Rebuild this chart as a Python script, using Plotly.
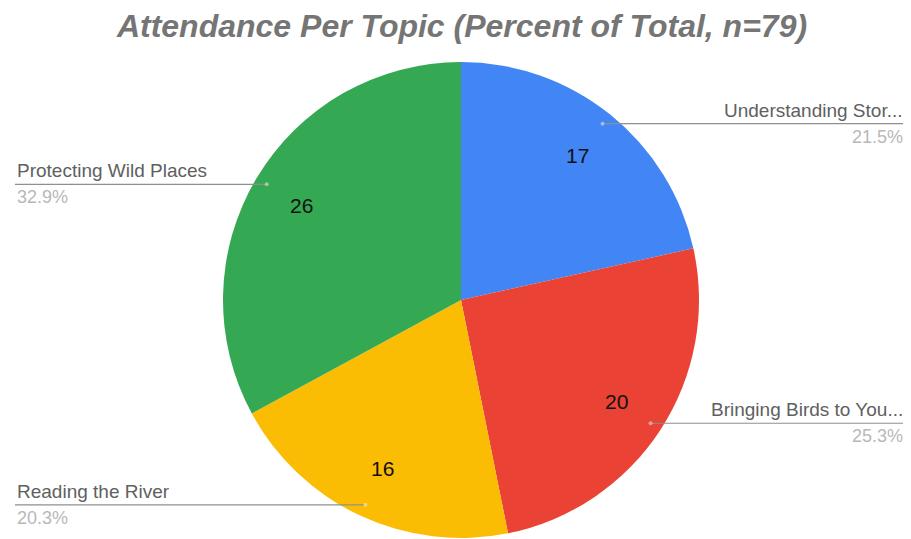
import math
import plotly.graph_objects as go

# ---- data ----
labels = ["Understanding Stor...", "Bringing Birds to You...", "Reading the River", "Protecting Wild Places"]
values = [17, 20, 16, 26]
colors = ["#4285F4", "#EA4335", "#FBBC04", "#34A853"]
title_text = "Attendance Per Topic (Percent of Total, n=79)"

# ---- geometry (screen pixels; page has an 8px body margin) ----
OFF = 8
W, H = 911 - OFF, 539 - OFF
cx, cy, R = 461, 300, 238
LEFT_X, RIGHT_X = 15, 905
FONT = "Liberation Sans, Arial"

def px(x):
    return (x - OFF) / W

def py(y):
    return 1 - (y - OFF) / H

fig = go.Figure(go.Pie(
    labels=labels, values=values, sort=False, direction="clockwise", rotation=0,
    marker=dict(colors=colors, line=dict(width=0)),
    textinfo="none", hoverinfo="label+value+percent", showlegend=False,
    domain=dict(x=[px(cx - R), px(cx + R)], y=[py(cy + R), py(cy - R)]),
))

total = sum(values)
cum = 0
shapes = []
annotations = []
for lab, v in zip(labels, values):
    mid = (cum + v / 2) / total * 2 * math.pi
    cum += v
    s, c = math.sin(mid), math.cos(mid)
    # value inside slice
    nx, ny = cx + 0.78 * R * s, cy - 0.78 * R * c
    annotations.append(dict(x=px(nx), y=py(ny), xref="paper", yref="paper", text=str(v),
                            showarrow=False, font=dict(family=FONT, size=21, color="#111111"),
                            xanchor="center", yanchor="middle"))
    # leader line
    dx, dy = cx + 0.95 * R * s, cy - 0.95 * R * c
    right = s > 0
    ex = RIGHT_X if right else LEFT_X
    shapes.append(dict(type="line", xref="paper", yref="paper", x0=px(dx), y0=py(dy), x1=px(ex), y1=py(dy),
                       line=dict(color="#8f8f8f", width=1.2)))
    shapes.append(dict(type="circle", xref="paper", yref="paper",
                       x0=px(dx - 2), x1=px(dx + 2), y0=py(dy + 2), y1=py(dy - 2),
                       fillcolor="rgba(255,255,255,0.45)", line=dict(width=0)))
    anc = "right" if right else "left"
    annotations.append(dict(x=px(ex), y=py(dy - 1), xref="paper", yref="paper", text=lab,
                            showarrow=False, xanchor=anc, yanchor="bottom",
                            font=dict(family=FONT, size=19, color="#606060")))
    annotations.append(dict(x=px(ex), y=py(dy + 1), xref="paper", yref="paper",
                            text=f"{v / total * 100:.1f}%",
                            showarrow=False, xanchor=anc, yanchor="top",
                            font=dict(family=FONT, size=18, color="#b8b8b8")))

fig.update_layout(
    width=W, height=H,
    margin=dict(l=0, r=0, t=0, b=0),
    paper_bgcolor="white", plot_bgcolor="white",
    title=dict(text=f"<b><i>{title_text}</i></b>", x=px(462), xanchor="center",
               y=py(26), yanchor="middle", yref="container",
               font=dict(family=FONT, size=32, color="#757575")),
    shapes=shapes, annotations=annotations,
)

fig.write_html("out.html")
